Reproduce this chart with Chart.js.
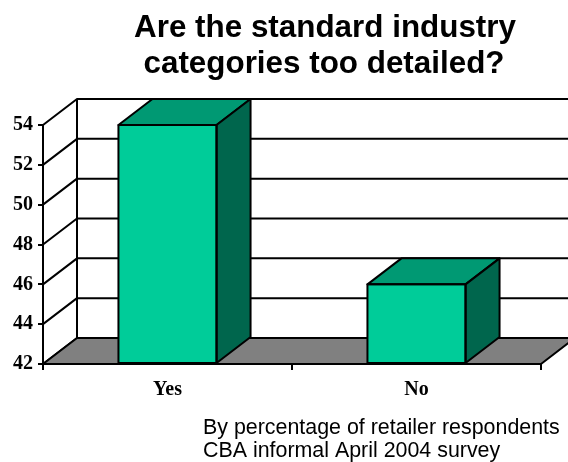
<!DOCTYPE html>
<html>
<head>
<meta charset="utf-8">
<script src="https://cdn.jsdelivr.net/npm/chart.js@4/dist/chart.umd.min.js"></script>
<style>
  html, body { margin: 0; padding: 0; background: #ffffff; }
  #wrap { position: relative; width: 568px; height: 462px; overflow: hidden; }
  canvas { display: block; }
</style>
</head>
<body>
<div id="wrap"><canvas id="c" width="568" height="462"></canvas></div>
<script>
// ---- data ----
const categories = ['Yes', 'No'];
const values = [54, 46];
const yRange = [42, 54];
const yStep = [2];
const titleLines = ['Are the standard industry', 'categories too detailed?'];
const noteLines = ['By percentage of retailer respondents', 'CBA informal April 2004 survey'];

// ---- 3D look ----
const DX = 34, DY = -26;
const FRONT = '#00CC99', TOP = '#009973', SIDE = '#00664D', FLOOR = '#808080';

function poly(ctx, pts, fill) {
  ctx.beginPath();
  ctx.moveTo(pts[0][0], pts[0][1]);
  for (let i = 1; i < pts.length; i++) ctx.lineTo(pts[i][0], pts[i][1]);
  ctx.closePath();
  if (fill) { ctx.fillStyle = fill; ctx.fill(); }
  ctx.stroke();
}

const threeD = {
  id: 'threeD',
  beforeDatasetsDraw(chart) {
    const ctx = chart.ctx, ys = chart.scales.y, a = chart.chartArea;
    ctx.save();
    ctx.strokeStyle = '#000';
    ctx.lineWidth = 2;
    ctx.lineJoin = 'round';
    ys.ticks.forEach(t => {
      const py = ys.getPixelForValue(t.value);
      ctx.beginPath();
      ctx.moveTo(a.left, py);
      ctx.lineTo(a.left + DX, py + DY);
      if (t.value !== yRange[0]) ctx.lineTo(chart.width + 10, py + DY);
      ctx.stroke();
    });
    ctx.beginPath();
    ctx.moveTo(a.left + DX, a.top + DY);
    ctx.lineTo(a.left + DX, a.bottom + DY);
    ctx.stroke();
    poly(ctx, [[a.left, a.bottom], [a.right, a.bottom], [a.right + DX, a.bottom + DY], [a.left + DX, a.bottom + DY]], FLOOR);
    ctx.restore();
  },
  afterDatasetsDraw(chart) {
    const ctx = chart.ctx, ys = chart.scales.y;
    const floorY = ys.getPixelForValue(yRange[0]);
    ctx.save();
    ctx.strokeStyle = '#000';
    ctx.lineWidth = 2;
    ctx.lineJoin = 'round';
    chart.getDatasetMeta(0).data.forEach(bar => {
      const p = bar.getProps(['x', 'y', 'width', 'base'], true);
      const base = Math.min(p.base, floorY);
      const x1 = p.x - p.width / 2, x2 = p.x + p.width / 2;
      poly(ctx, [[x1, p.y], [x2, p.y], [x2 + DX, p.y + DY], [x1 + DX, p.y + DY]], TOP);
      poly(ctx, [[x2, p.y], [x2 + DX, p.y + DY], [x2 + DX, base + DY], [x2, base]], SIDE);
      poly(ctx, [[x1, p.y], [x2, p.y], [x2, base], [x1, base]], null);
    });
    ctx.restore();
  },
  afterDraw(chart) {
    const ctx = chart.ctx;
    ctx.save();
    ctx.fillStyle = '#000';
    ctx.textBaseline = 'alphabetic';
    ctx.textAlign = 'center';
    ctx.font = 'bold 31.4px "Liberation Sans", Arial, sans-serif';
    ctx.fillText(titleLines[0], 325, 37);
    ctx.fillText(titleLines[1], 324, 73);
    ctx.textAlign = 'left';
    ctx.font = '21.4px "Liberation Sans", Arial, sans-serif';
    ctx.fillText(noteLines[0], 203, 434);
    ctx.fillText(noteLines[1], 203, 457);
    ctx.restore();
  }
};

const serif = { family: '"Liberation Serif", "Times New Roman", serif', size: 20, weight: 'bold' };

new Chart(document.getElementById('c'), {
  type: 'bar',
  data: {
    labels: categories,
    datasets: [{
      data: values,
      base: yRange[0],
      backgroundColor: FRONT,
      borderColor: '#000',
      borderWidth: 0,
      categoryPercentage: 1.0,
      barPercentage: 0.394
    }]
  },
  options: {
    responsive: false,
    animation: false,
    devicePixelRatio: 1,
    layout: { padding: { top: 125, right: 27, left: 0, bottom: 0 } },
    plugins: { legend: { display: false }, tooltip: { enabled: false }, title: { display: false } },
    scales: {
      x: {
        offset: true,
        grid: { display: true, offset: true, drawOnChartArea: false, drawTicks: true, tickLength: 6, color: '#000', lineWidth: 2 },
        border: { display: true, color: '#000', width: 2 },
        ticks: { color: '#000', font: serif, padding: 8, maxRotation: 0 },
        afterFit(s) { s.height = 98; }
      },
      y: {
        min: yRange[0],
        max: yRange[1],
        grid: { display: true, drawOnChartArea: false, drawTicks: true, tickLength: 5, color: '#000', lineWidth: 2 },
        border: { display: true, color: '#000', width: 2 },
        ticks: { stepSize: yStep[0], color: '#000', font: serif, padding: 5 },
        afterFit(s) { s.width = 43; }
      }
    }
  },
  plugins: [threeD]
});
</script>
</body>
</html>
